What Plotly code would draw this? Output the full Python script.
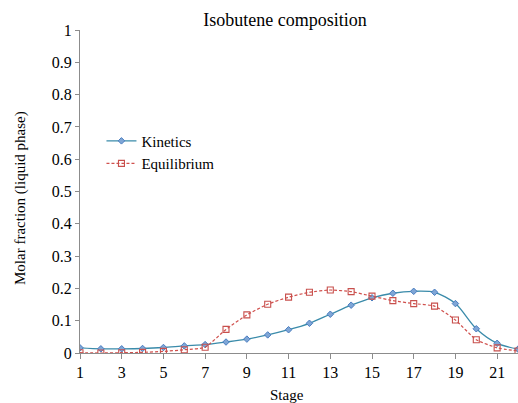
import plotly.graph_objects as go

stages = list(range(1, 23))
kinetics = [0.016, 0.013, 0.013, 0.014, 0.017, 0.022, 0.026, 0.034, 0.043, 0.056,
            0.072, 0.092, 0.120, 0.148, 0.171, 0.185, 0.191, 0.188, 0.153, 0.075,
            0.030, 0.012]
equilibrium = [0.001, 0.000, 0.001, 0.002, 0.005, 0.010, 0.018, 0.073, 0.118, 0.151,
               0.173, 0.188, 0.195, 0.190, 0.176, 0.162, 0.153, 0.145, 0.102, 0.041,
               0.016, 0.006]
x_ticks = list(range(1, 22, 2))
y_ticks = [0, 0.1, 0.2, 0.3, 0.4, 0.5, 0.6, 0.7, 0.8, 0.9, 1]
y_labels = ["0", "0.1", "0.2", "0.3", "0.4", "0.5", "0.6", "0.7", "0.8", "0.9", "1"]

FONT = "Liberation Serif, Times New Roman, serif"
W, H = 518, 403

fig = go.Figure()
fig.add_trace(go.Scatter(
    x=stages, y=kinetics, name="Kinetics", mode="lines+markers",
    line=dict(color="#3A8BAA", width=1.3, shape="spline", smoothing=0.8),
    marker=dict(symbol="diamond", size=5, color="#7FA6D6",
                line=dict(color="#4A7DC0", width=1)),
))
fig.add_trace(go.Scatter(
    x=stages, y=equilibrium, name="Equilibrium", mode="lines+markers",
    line=dict(color="#D0504D", width=1.2, dash="3px,2px", shape="spline", smoothing=0.5),
    marker=dict(symbol="square-open", size=6, color="#C8504D",
                line=dict(color="#C8504D", width=1.1)),
))

fig.update_layout(
    width=W, height=H,
    margin=dict(l=80, r=0, t=30, b=50),
    paper_bgcolor="white", plot_bgcolor="white",
    font=dict(family=FONT, size=15, color="black"),
    title=dict(text="Isobutene composition", x=285/W, xanchor="center",
               y=1 - 20/H, yanchor="middle", yref="container",
               font=dict(family=FONT, size=18, color="black")),
    showlegend=True,
    legend=dict(x=0.049, y=0.622, xanchor="left", yanchor="middle",
                bgcolor="rgba(0,0,0,0)", font=dict(family=FONT, size=15),
                tracegroupgap=0, itemwidth=30),
    xaxis=dict(range=[1, 22], tickmode="array", tickvals=x_ticks,
               ticktext=[str(v) for v in x_ticks],
               showgrid=False, zeroline=False, showline=True, linecolor="#8C8C8C",
               linewidth=1, ticks="outside", ticklen=5, tickcolor="#8C8C8C",
               tickfont=dict(family=FONT, size=16)),
    yaxis=dict(range=[0, 1], tickmode="array", tickvals=y_ticks, ticktext=y_labels,
               showgrid=False, zeroline=False, showline=True, linecolor="#8C8C8C",
               linewidth=1, ticks="outside", ticklen=4, tickcolor="#8C8C8C",
               tickfont=dict(family=FONT, size=16)),
    annotations=[
        dict(text="Stage", xref="paper", yref="paper",
             x=(287 - 80) / 438, y=-(395 - 353) / 323,
             xanchor="center", yanchor="middle", showarrow=False,
             font=dict(family=FONT, size=15)),
        dict(text="Molar fraction (liquid phase)", xref="paper", yref="paper",
             x=-(80 - 20) / 438, y=(353 - 198) / 323, textangle=-90,
             xanchor="center", yanchor="middle", showarrow=False,
             font=dict(family=FONT, size=15)),
    ],
)

fig.write_html("out.html")
